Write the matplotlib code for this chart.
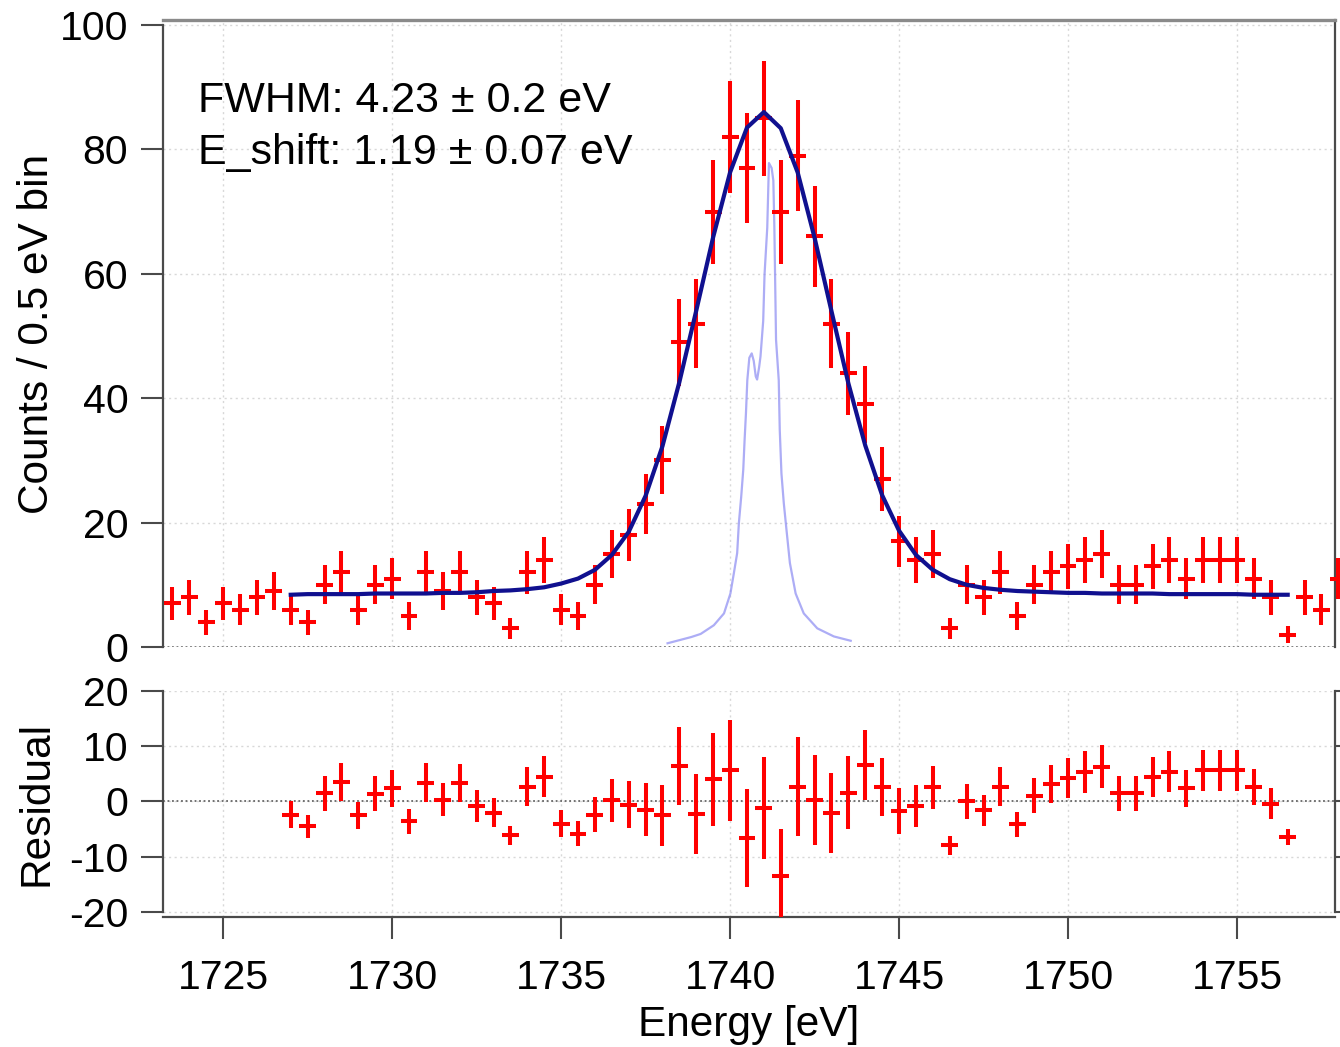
import numpy as np
import matplotlib
matplotlib.use("Agg")
import matplotlib.pyplot as plt

plt.rcParams['font.family'] = ['Liberation Sans', 'DejaVu Sans']
plt.rcParams['axes.unicode_minus'] = False

# ---- data ----
energy = [1723.5, 1724.0, 1724.5, 1725.0, 1725.5, 1726.0, 1726.5, 1727.0, 1727.5, 1728.0,
          1728.5, 1729.0, 1729.5, 1730.0, 1730.5, 1731.0, 1731.5, 1732.0, 1732.5, 1733.0,
          1733.5, 1734.0, 1734.5, 1735.0, 1735.5, 1736.0, 1736.5, 1737.0, 1737.5, 1738.0,
          1738.5, 1739.0, 1739.5, 1740.0, 1740.5, 1741.0, 1741.5, 1742.0, 1742.5, 1743.0,
          1743.5, 1744.0, 1744.5, 1745.0, 1745.5, 1746.0, 1746.5, 1747.0, 1747.5, 1748.0,
          1748.5, 1749.0, 1749.5, 1750.0, 1750.5, 1751.0, 1751.5, 1752.0, 1752.5, 1753.0,
          1753.5, 1754.0, 1754.5, 1755.0, 1755.5, 1756.0, 1756.5, 1757.0, 1757.5, 1758.0]
counts = [7, 8, 4, 7, 6, 8, 9, 6, 4, 10,
          12, 6, 10, 11, 5, 12, 9, 12, 8, 7,
          3, 12, 14, 6, 5, 10, 15, 18, 23, 30,
          49, 52, 70, 82, 77, 85, 70, 79, 66, 52,
          44, 39, 27, 17, 14, 15, 3, 10, 8, 12,
          5, 10, 12, 13, 14, 15, 10, 10, 13, 14,
          11, 14, 14, 14, 11, 8, 2, 8, 6, 11]

fit_energy = [1727.0, 1727.5, 1728.0, 1728.5, 1729.0, 1729.5, 1730.0, 1730.5, 1731.0, 1731.5,
              1732.0, 1732.5, 1733.0, 1733.5, 1734.0, 1734.5, 1735.0, 1735.5, 1736.0, 1736.5,
              1737.0, 1737.5, 1738.0, 1738.5, 1739.0, 1739.5, 1740.0, 1740.5, 1741.0, 1741.5,
              1742.0, 1742.5, 1743.0, 1743.5, 1744.0, 1744.5, 1745.0, 1745.5, 1746.0, 1746.5,
              1747.0, 1747.5, 1748.0, 1748.5, 1749.0, 1749.5, 1750.0, 1750.5, 1751.0, 1751.5,
              1752.0, 1752.5, 1753.0, 1753.5, 1754.0, 1754.5, 1755.0, 1755.5, 1756.0, 1756.5]
fit_counts = [8.4, 8.5, 8.5, 8.5, 8.5, 8.6, 8.6, 8.6, 8.6, 8.7,
              8.7, 8.8, 9.0, 9.1, 9.3, 9.6, 10.2, 11.0, 12.4, 14.8,
              18.5, 24.3, 32.3, 42.6, 54.1, 65.9, 76.3, 83.5, 86.0, 83.4,
              76.3, 65.8, 54.0, 42.4, 32.4, 24.4, 18.7, 14.8, 12.4, 10.9,
              10.0, 9.5, 9.2, 9.0, 8.9, 8.8, 8.7, 8.7, 8.6, 8.6,
              8.6, 8.6, 8.5, 8.5, 8.5, 8.5, 8.5, 8.4, 8.4, 8.4]

residual = [-2.4, -4.5, 1.5, 3.5, -2.5, 1.4, 2.4, -3.6, 3.4, 0.3,
            3.3, -0.8, -2.0, -6.1, 2.7, 4.5, -4.0, -5.8, -2.4, 0.2,
            -0.6, -1.5, -2.5, 6.4, -2.2, 4.0, 5.6, -6.6, -1.1, -13.4,
            2.7, 0.2, -2.0, 1.6, 6.6, 2.6, -1.7, -0.8, 2.6, -7.9,
            0.0, -1.6, 2.7, -4.1, 1.0, 3.2, 4.2, 5.3, 6.3, 1.5,
            1.5, 4.4, 5.4, 2.4, 5.6, 5.6, 5.6, 2.6, -0.4, -6.4]
residual_counts = counts[7:67]

line_energy = [1738.15, 1738.5, 1738.85, 1739.13, 1739.52, 1739.82, 1740.01, 1740.11, 1740.21,
               1740.26, 1740.33, 1740.39, 1740.43, 1740.47, 1740.51, 1740.57, 1740.64, 1740.70,
               1740.76, 1740.80, 1740.86, 1740.90, 1740.98, 1741.02, 1741.10, 1741.15, 1741.23,
               1741.28, 1741.31, 1741.36, 1741.44, 1741.47, 1741.52, 1741.59, 1741.67, 1741.77,
               1741.94, 1742.18, 1742.58, 1743.07, 1743.57]
line_counts = [0.6, 1.1, 1.6, 2.1, 3.5, 5.4, 8.6, 11.8, 15.1,
               19.9, 24.2, 28.5, 33.3, 37.6, 42.9, 46.5, 47.2, 46.0,
               43.5, 43.0, 45.0, 46.7, 52.4, 59.9, 67.4, 77.8, 77.0,
               75.0, 67.6, 49.4, 42.9, 34.9, 27.9, 23.1, 18.8, 13.5,
               8.6, 5.4, 3.0, 1.7, 1.0]

x_ticks = [1725, 1730, 1735, 1740, 1745, 1750, 1755]
y_ticks_top = [0, 20, 40, 60, 80, 100]
y_ticks_res = [-20, -10, 0, 10, 20]

annot1 = "FWHM: 4.23 \u00b1 0.2 eV"
annot2 = "E_shift: 1.19 \u00b1 0.07 eV"

# ---- figure ----
W, H = 1340, 1047
fig = plt.figure(figsize=(W / 100, H / 100), dpi=100)
fig.patch.set_facecolor('white')

ax1 = fig.add_axes([163 / W, 1 - 647 / H, (1335 - 163) / W, (647 - 20) / H])
ax2 = fig.add_axes([163 / W, 1 - 917 / H, (1335 - 163) / W, (917 - 690.7) / H])

xlim = (1723.22, 1757.9)
spine_col = '#4a4a4a'
grid_kw = dict(color='#d8d8d8', linestyle=(0, (1.5, 2.5)), linewidth=1.0)
TFS = 29.5
LFS = 30.5
AXW = 1335 - 163

# top panel
ax1.set_xlim(*xlim)
ax1.set_ylim(0, 100.8)
ax1.set_xticks(x_ticks)
ax1.set_yticks(y_ticks_top)
ax1.grid(True, **grid_kw)
ax1.set_axisbelow(True)
ax1.axhline(0, color='#777777', linestyle=(0, (1, 1.5)), linewidth=1.3, zorder=1)
ax1.plot(line_energy, line_counts, color='#8a8af2', linewidth=1.6, alpha=0.7, zorder=2)
ax1.errorbar(energy, counts, yerr=np.sqrt(counts), xerr=0.25, fmt='none',
             ecolor='#ff0000', elinewidth=2.9, capsize=0, zorder=3, clip_on=False)
ax1.plot(fit_energy, fit_counts, color='#10108f', linewidth=3.0, zorder=4)
ax1.tick_params(axis='x', length=0, labelbottom=False)
ax1.tick_params(axis='y', direction='out', length=16, width=1.5, color=spine_col,
                labelsize=TFS, pad=9)
ax1.spines['bottom'].set_visible(False)
for s in ('left', 'right'):
    ax1.spines[s].set_color(spine_col)
    ax1.spines[s].set_linewidth(1.6)
ax1.spines['left'].set_bounds(0, 100)
ax1.spines['top'].set_color('#8a8a8a')
ax1.spines['top'].set_linewidth(2.4)
ax1.set_ylabel("Counts / 0.5 eV bin", fontsize=LFS)
ax1.yaxis.set_label_coords(-(163 - 57) / AXW, 0.5)

fig.text(198 / W, 1 - 112 / H, annot1, fontsize=31, va='baseline', ha='left')
fig.text(198 / W, 1 - 164 / H, annot2, fontsize=31, va='baseline', ha='left')

# residual panel
ax2.set_xlim(*xlim)
ax2.set_ylim(-20.85, 20)
ax2.set_xticks(x_ticks)
ax2.set_yticks(y_ticks_res)
ax2.grid(True, **grid_kw)
ax2.set_axisbelow(True)
ax2.axhline(0, color='#666666', linestyle=(0, (1, 1.5)), linewidth=1.3, zorder=1)
ax2.errorbar(fit_energy, residual, yerr=np.sqrt(residual_counts), xerr=0.25, fmt='none',
             ecolor='#ff0000', elinewidth=2.9, capsize=0, zorder=3)
ax2.tick_params(axis='x', direction='out', length=16, width=1.5, color=spine_col,
                labelsize=TFS, pad=14)
ax2.tick_params(axis='y', direction='out', length=16, width=1.5, color=spine_col,
                labelsize=TFS, pad=9, right=True, labelright=False)
ax2.spines['top'].set_visible(False)
for s in ('left', 'right', 'bottom'):
    ax2.spines[s].set_color(spine_col)
    ax2.spines[s].set_linewidth(1.6)
ax2.spines['left'].set_bounds(-20, 20)
ax2.spines['right'].set_bounds(-20, 20)
ax2.set_ylabel("Residual", fontsize=LFS)
ax2.yaxis.set_label_coords(-(163 - 57) / AXW, 0.5)
ax2.set_xlabel("Energy [eV]", fontsize=LFS, labelpad=6)

fig.savefig("out.png", dpi=100, facecolor='white')
